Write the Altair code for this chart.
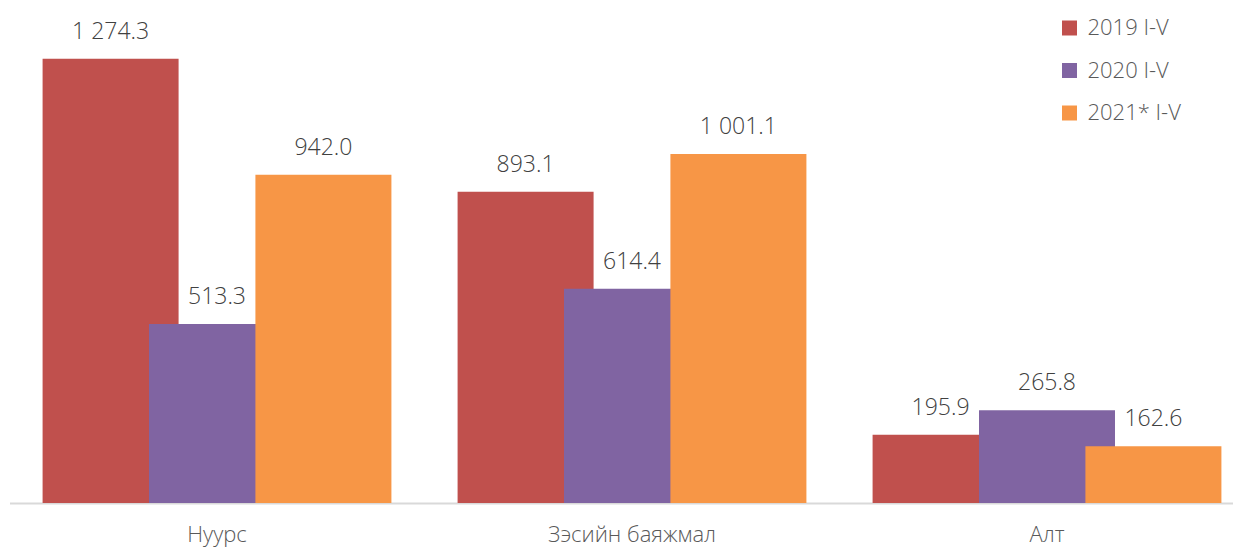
import altair as alt
import pandas as pd

categories = ["Нуурс", "Зэсийн баяжмал", "Алт"]
series = ["2019 I-V", "2020 I-V", "2021* I-V"]
values = {
    "2019 I-V": [1274.3, 893.1, 195.9],
    "2020 I-V": [513.3, 614.4, 265.8],
    "2021* I-V": [942.0, 1001.1, 162.6],
}
colors = ["#C0504D", "#8064A2", "#F79646"]

rows = []
for s in series:
    for c, v in zip(categories, values[s]):
        rows.append({"cat": c, "series": s, "value": v,
                     "label": f"{v:,.1f}".replace(",", " ")})
df = pd.DataFrame(rows)

FONT = "Open Sans"

x = alt.X("cat:N", sort=categories, title=None,
          scale=alt.Scale(paddingInner=0, paddingOuter=0, range=[0, 1245]),
          axis=alt.Axis(labelAngle=0, ticks=False, domainColor="#D9D9D9", domainWidth=2,
                        labelFontSize=22, labelColor="#595959", labelFont=FONT,
                        labelFontWeight=300, labelPadding=21))
xo = alt.XOffset("series:N", sort=series,
                 scale=alt.Scale(paddingInner=0, paddingOuter=0.45))
y = alt.Y("value:Q", scale=alt.Scale(domain=[0, 1400]), axis=None)

bars = alt.Chart(df).mark_bar(width=136).encode(
    x=x, xOffset=xo, y=y,
    color=alt.Color("series:N", sort=series,
                    scale=alt.Scale(domain=series, range=colors),
                    legend=alt.Legend(title=None, orient="none", legendX=1049, legendY=2,
                                      symbolType="square", symbolSize=225,
                                      symbolStrokeWidth=0,
                                      labelFontSize=22, labelColor="#595959",
                                      labelFont=FONT, labelFontWeight=300,
                                      rowPadding=20.5, labelOffset=7)),
    order=alt.Order("series:N"),
)

texts = alt.Chart(df).mark_text(dy=-27, fontSize=23, color="#404040",
                                font=FONT, fontWeight=300).encode(
    x=x, xOffset=xo, y=y, text="label:N"
)

chart = alt.layer(bars, texts).properties(
    width=1223, height=488,
    padding={"left": 1.5, "top": 7, "right": 0, "bottom": 46},
    autosize=alt.AutoSizeParams(type="none"),
).configure_view(stroke=None)

chart.save("out.html", embed_options={"renderer": "svg", "actions": False})
